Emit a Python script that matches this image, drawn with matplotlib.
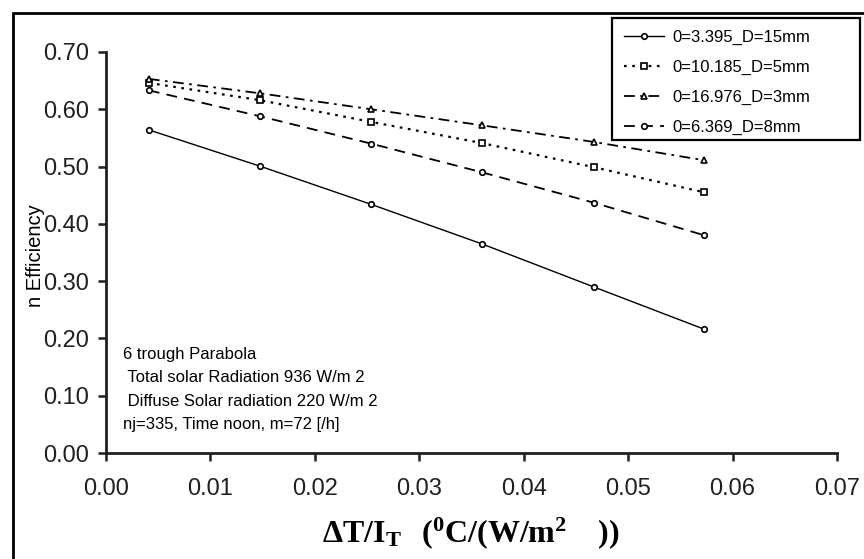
import matplotlib
matplotlib.use("Agg")
import matplotlib.pyplot as plt
from matplotlib.patches import Rectangle
from matplotlib.legend_handler import HandlerLine2D

plt.rcParams['font.family'] = ['Liberation Sans', 'DejaVu Sans']
plt.rcParams['mathtext.fontset'] = 'custom'
plt.rcParams['mathtext.rm'] = 'Liberation Serif'
plt.rcParams['mathtext.bf'] = 'Liberation Serif:bold'

x = [0.0041, 0.0147, 0.0254, 0.0360, 0.0467, 0.0573]
eff_15mm = [0.564, 0.501, 0.434, 0.365, 0.290, 0.216]
eff_5mm = [0.646, 0.616, 0.578, 0.541, 0.499, 0.455]
eff_3mm = [0.653, 0.628, 0.600, 0.572, 0.543, 0.511]
eff_8mm = [0.633, 0.588, 0.540, 0.490, 0.437, 0.380]
labels = ['0=3.395_D=15mm', '0=10.185_D=5mm', '0=16.976_D=3mm', '0=6.369_D=8mm']

notes = ["6 trough Parabola",
         " Total solar Radiation 936 W/m 2",
         " Diffuse Solar radiation 220 W/m 2",
         "nj=335, Time noon, m=72 [/h]"]


class EndMarker(HandlerLine2D):
    # marker at the right end of the sample line, like the original
    def get_xdata(self, legend, xdescent, ydescent, width, height, fontsize):
        xd = [-xdescent, -xdescent + width]
        return xd, [-xdescent + width]


fig = plt.figure(figsize=(8.64, 5.59), dpi=100)
ax = fig.add_axes([0.1227, 0.1896, 0.846, 0.7174])

k = dict(color='black', markerfacecolor='white', markeredgecolor='black', markersize=4, markeredgewidth=1.2)
ax.plot(x, eff_15mm, linestyle='-', lw=1.0, marker='o', label=labels[0], **k)
ax.plot(x, eff_5mm, linestyle=(0, (1.2, 2.5)), lw=1.6, marker='s', label=labels[1], **k)
ax.plot(x, eff_3mm, linestyle=(0, (6, 3, 1.5, 3)), lw=1.3, marker='^', label=labels[2], **k)
ax.plot(x, eff_8mm, linestyle=(0, (6, 4)), lw=1.3, marker='o', label=labels[3], **k)

ax.set_xlim(0, 0.07)
ax.set_ylim(0, 0.70)
ax.set_xticks([0.00, 0.01, 0.02, 0.03, 0.04, 0.05, 0.06, 0.07])
ax.set_yticks([0.0, 0.1, 0.2, 0.3, 0.4, 0.5, 0.6, 0.7])
ax.xaxis.set_major_formatter(plt.FormatStrFormatter('%.2f'))
ax.yaxis.set_major_formatter(plt.FormatStrFormatter('%.2f'))
ax.tick_params(direction='out', length=6, width=1.8, labelsize=17, colors='#231f20', pad=6)
ax.tick_params(axis='x', pad=12)
for s in ['top', 'right']:
    ax.spines[s].set_visible(False)
for s in ['left', 'bottom']:
    ax.spines[s].set_linewidth(2)
    ax.spines[s].set_color('#231f20')

fig.text(0.041, 0.542, 'n Efficiency', rotation=90, fontsize=14.5, ha='center', va='center')
fig.text(322 / 864, 0.046, r'$\mathbf{\Delta T/I_T\ \ (^{0}C/(W/m^{2}\ \ \ ))}$', fontsize=23,
         ha='left', va='center')

for i, t in enumerate(notes):
    ax.text(0.0016, 0.172 - i * 0.041, t, fontsize=12, ha='left', va='center')

leg = ax.legend(loc='upper left', bbox_to_anchor=(612 / 864, 1 - 18 / 559), bbox_transform=fig.transFigure,
                fontsize=12, frameon=False, handlelength=2.4, borderaxespad=0,
                handletextpad=0.5, borderpad=0.7, labelspacing=0.9, numpoints=1,
                handler_map={matplotlib.lines.Line2D: EndMarker()})

# legend box, wider on the right than the labels need
fig.patches.append(Rectangle((612 / 864, 1 - 140 / 559), (860 - 612) / 864, (140 - 18) / 559,
                             transform=fig.transFigure, fill=False, edgecolor='black', linewidth=1.6))

# outer frame round the picture (right and bottom edges fall outside)
fig.patches.append(Rectangle((13 / 864, -0.05), 1.0, 1.05 - 13 / 559, transform=fig.transFigure,
                             fill=False, edgecolor='black', linewidth=2))

fig.savefig('out.png', dpi=100)
